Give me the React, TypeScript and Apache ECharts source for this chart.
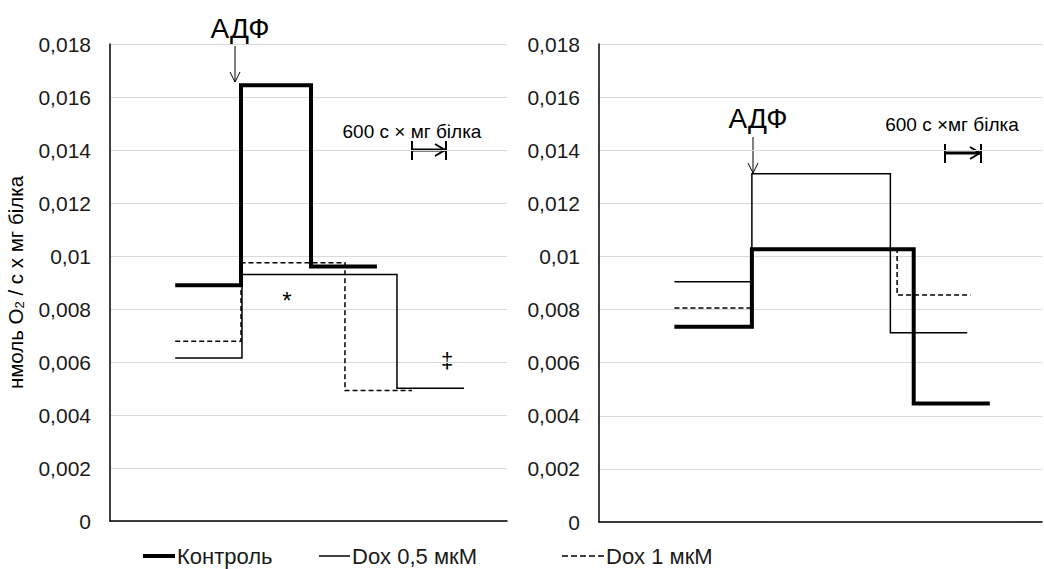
import React, { useEffect, useRef } from "react";
import * as echarts from "echarts";

// time axis in seconds (600 s scale bar), values in nmol O2 / s x mg protein
const seriesNames = ["Контроль", "Dox 0,5 мкМ", "Dox 1 мкМ"];
const yTicks = { min: 0, max: 0.018, interval: 0.002 };

// Left panel: breakpoints (s) and step levels
const leftControlT = [1150, 2310, 3544, 4707];
const leftControlV = [0.0089, 0.01644, 0.0096];
const leftDox05T = [1150, 2327, 5060, 6241];
const leftDox05V = [0.00615, 0.0093, 0.00501];
const leftDox1T = [1150, 2310, 4143, 5324];
const leftDox1V = [0.00678, 0.00975, 0.00492];

// Right panel
const rightControlT = [1328, 2692, 5541, 6881];
const rightControlV = [0.00735, 0.01027, 0.00446];
const rightDox05T = [1328, 2692, 5130, 6483];
const rightDox05V = [0.00905, 0.01311, 0.00713];
const rightDox1T = [1328, 2692, 5249, 6541];
const rightDox1V = [0.00806, 0.01027, 0.00855];

const leftXMax = 7000;
const rightXMax = 7800;

function stepPoints(t: number[], v: number[]) {
  const pts: number[][] = [];
  for (let i = 0; i < v.length; i++) {
    pts.push([t[i], v[i]]);
    pts.push([t[i + 1], v[i]]);
  }
  return pts;
}

const fmt = (val: number) => {
  if (val === 0) return "0";
  return String(Number(val.toFixed(3))).replace(".", ",");
};

const FONT = "'Liberation Sans', Arial, sans-serif";

const ICON_THICK = "path://M0,0H32V4H0Z";
const ICON_THIN = "path://M0,0H31V1.5H0Z";
const ICON_DASH = "path://M0,0H6V1.5H0Z M9,0H15V1.5H9Z M18,0H24V1.5H18Z M27,0H33V1.5H27Z M36,0H42V1.5H36Z";

export default function App() {
  const ref = useRef<HTMLDivElement>(null);
  useEffect(() => {
    if (!ref.current) return;
    const chart = echarts.init(ref.current, null, { renderer: "svg" });

    const styles = [
      { width: 4, type: "solid" as const, z: 5 },
      { width: 1.5, type: "solid" as const, z: 3 },
      { width: 1.5, type: [5, 3] as any, z: 4 },
    ];

    const mk = (name: number, idx: number, t: number[], v: number[]) => ({
      type: "line",
      name: seriesNames[name],
      xAxisIndex: idx,
      yAxisIndex: idx,
      data: stepPoints(t, v),
      symbol: "none",
      z: styles[name].z,
      lineStyle: { color: "#000", width: styles[name].width, type: styles[name].type, cap: "butt", join: "miter" },
      itemStyle: { color: "#000" },
    });

    const yAxisBase = {
      type: "value",
      min: yTicks.min,
      max: yTicks.max,
      interval: yTicks.interval,
      axisLine: { show: true, lineStyle: { color: "#000", width: 1.5 } },
      axisTick: { show: false },
      splitLine: { show: true, lineStyle: { color: "#d9d9d9", width: 1 } },
      axisLabel: { formatter: fmt, color: "#1a1a1a", fontSize: 21, fontFamily: FONT, margin: 19 },
    };

    const xAxisBase = (max: number) => ({
      type: "value",
      min: 0,
      max,
      axisLine: { show: true, onZero: false, lineStyle: { color: "#000", width: 1.5 } },
      axisTick: { show: false },
      axisLabel: { show: false },
      splitLine: { show: false },
    });

    const legendBase = (left: number, name: string, icon: string, w: number, h: number) => ({
      data: [{ name, icon }],
      left,
      top: 545,
      padding: 0,
      itemWidth: w,
      itemHeight: h,
      itemGap: 0,
      selectedMode: false,
      itemStyle: { color: "#000", borderWidth: 0 },
      textStyle: { color: "#1a1a1a", fontSize: 22, fontFamily: FONT, padding: [0, 0, 0, -3] },
    });

    const arrow = (x: number, y1: number, y2: number) => [
      { type: "line", shape: { x1: x, y1, x2: x, y2 }, style: { stroke: "#000", lineWidth: 1 } },
      { type: "polyline", shape: { points: [[x - 5, y2 - 10], [x, y2], [x + 5, y2 - 10]] }, style: { stroke: "#000", lineWidth: 1, fill: null } },
    ];

    const scaleBar = (x1: number, x2: number, y: number) => [
      { type: "line", shape: { x1, y1: y, x2, y2: y }, style: { stroke: "#000", lineWidth: 3 } },
      { type: "line", shape: { x1, y1: y - 9, x2: x1, y2: y + 10 }, style: { stroke: "#000", lineWidth: 2 } },
      { type: "line", shape: { x1: x2, y1: y - 9, x2, y2: y + 10 }, style: { stroke: "#000", lineWidth: 2 } },
      { type: "polyline", shape: { points: [[x2 - 11, y - 6], [x2 - 1, y], [x2 - 11, y + 6]] }, style: { stroke: "#000", lineWidth: 2, fill: null } },
    ];

    const text = (x: number, y: number, s: string, size: number) => ({
      type: "text",
      x,
      y,
      style: { text: s, fontSize: size, fontFamily: FONT, fill: "#000", align: "center", verticalAlign: "middle" },
    });

    chart.setOption({
      animation: false,
      backgroundColor: "#fff",
      grid: [
        { left: 110, right: 537, top: 44, bottom: 48 },
        { left: 599, right: 2, top: 44, bottom: 47 },
      ],
      xAxis: [{ ...xAxisBase(leftXMax), gridIndex: 0 }, { ...xAxisBase(rightXMax), gridIndex: 1 }],
      yAxis: [
        {
          ...yAxisBase,
          gridIndex: 0,
          name: "{a|нмоль O}{s|2}{a| / с х мг білка}",
          nameLocation: "middle",
          nameRotate: 90,
          nameGap: 84,
          nameTextStyle: {
            rich: {
              a: { fontSize: 20.5, fontFamily: FONT, color: "#000" },
              s: { fontSize: 13, fontFamily: FONT, color: "#000", verticalAlign: "bottom", padding: [9, 0, 0, 0] },
            },
          },
        },
        { ...yAxisBase, gridIndex: 1 },
      ],
      legend: [
        legendBase(143, seriesNames[0], ICON_THICK, 32, 4),
        legendBase(319, seriesNames[1], ICON_THIN, 31, 1.5),
        legendBase(562, seriesNames[2], ICON_DASH, 42, 1.5),
      ],
      series: [
        mk(1, 0, leftDox05T, leftDox05V),
        mk(2, 0, leftDox1T, leftDox1V),
        mk(0, 0, leftControlT, leftControlV),
        mk(1, 1, rightDox05T, rightDox05V),
        mk(2, 1, rightDox1T, rightDox1V),
        mk(0, 1, rightControlT, rightControlV),
      ],
      graphic: [
        text(240, 28, "АДФ", 28),
        ...arrow(235, 46, 82),
        text(758, 118, "АДФ", 28),
        ...arrow(753, 137, 173),
        text(412, 131, "600 с × мг білка", 19),
        ...scaleBar(412, 446, 150),
        text(952, 124, "600 с ×мг білка", 19),
        ...scaleBar(945, 981, 153),
        text(287, 300, "*", 24),
        text(447, 360, "‡", 22),
      ],
    });
    return () => chart.dispose();
  }, []);
  return (
    <div
      ref={ref}
      style={{ position: "fixed", left: 0, top: 0, width: 1044, height: 569, background: "#fff" }}
    />
  );
}
